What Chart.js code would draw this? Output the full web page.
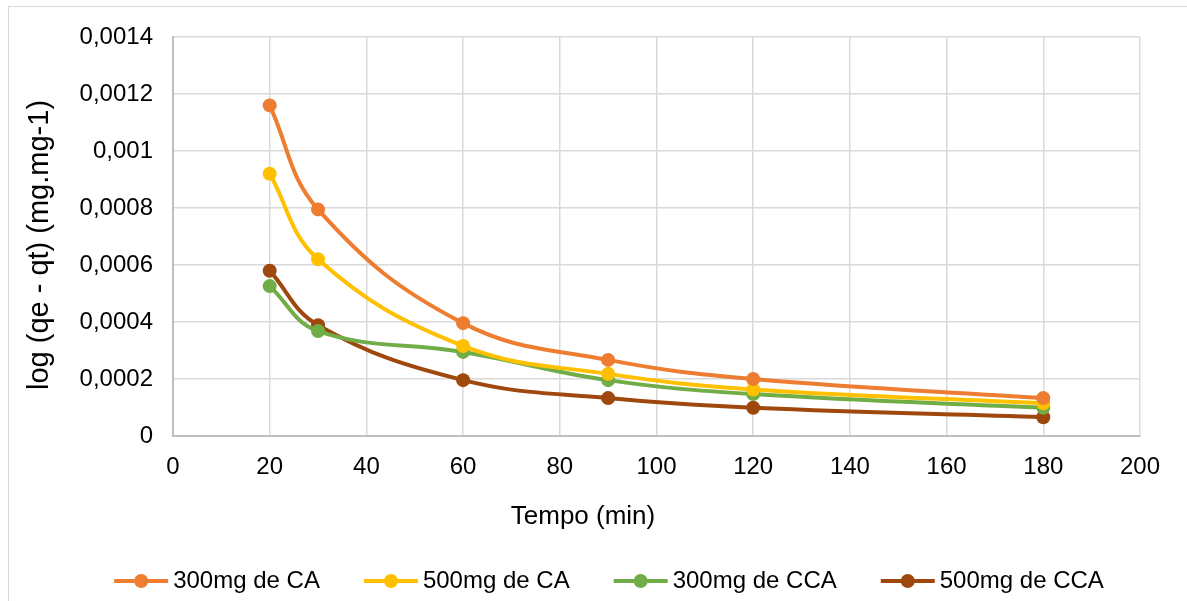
<!DOCTYPE html>
<html>
<head>
<meta charset="utf-8">
<script src="https://cdn.jsdelivr.net/npm/chart.js@4.4.1/dist/chart.umd.min.js"></script>
<style>
    html, body { margin: 0; padding: 0; background: #fff; overflow: hidden; }
    #frame { position: absolute; left: 8px; top: 6px; width: 1200px; height: 640px; border: 1px solid #d9d9d9; }
    #wrap { position: absolute; left: 0; top: 0; width: 1187px; height: 601px; }
</style>
</head>
<body>
<div id="frame"></div>
<div id="wrap"><canvas id="chart"></canvas></div>
<script>
const tempo = [20, 30, 60, 90, 120, 180];
const ca300 = [0.00116, 0.000795, 0.000396, 0.000267, 0.0002, 0.000133];
const ca500 = [0.00092, 0.00062, 0.000316, 0.000218, 0.000163, 0.000115];
const cca300 = [0.000526, 0.000368, 0.000295, 0.000196, 0.000147, 0.000099];
const cca500 = [0.00058, 0.000389, 0.000196, 0.000133, 0.000099, 0.000066];
const seriesNames = ["300mg de CA", "500mg de CA", "300mg de CCA", "500mg de CCA"];
const seriesColors = ["#ED7D31", "#FFC000", "#70AD47", "#9E480E"];
const xTicks = [0, 20, 40, 60, 80, 100, 120, 140, 160, 180, 200];
const yTickLabels = ["0", "0,0002", "0,0004", "0,0006", "0,0008", "0,001", "0,0012", "0,0014"];

const FONT = "'Liberation Sans', Arial, sans-serif";

function toPoints(values) {
    return tempo.map((t, i) => ({ x: t, y: values[i] }));
}

const datasets = [ca300, ca500, cca300, cca500].map((vals, i) => ({
    label: seriesNames[i],
    data: toPoints(vals),
    borderColor: seriesColors[i],
    backgroundColor: seriesColors[i],
    borderWidth: 4,
    pointRadius: 7,
    pointBorderWidth: 0,
    pointHoverRadius: 7,
    tension: 0.4,
    fill: false
}));

// axis titles + legend drawn after the chart
const extras = {
    id: "extras",
    afterDraw(chart) {
        const ctx = chart.ctx;
        ctx.save();
        ctx.fillStyle = "#000";
        ctx.textAlign = "center";
        ctx.textBaseline = "middle";
        ctx.font = "26px " + FONT;
        ctx.fillText("Tempo (min)", 583, 517);

        ctx.save();
        ctx.font = "29px " + FONT;
        ctx.translate(40, 245);
        ctx.rotate(-Math.PI / 2);
        ctx.fillText("log (qe - qt) (mg.mg-1)", 0, 0);
        ctx.restore();

        // legend
        ctx.font = "24px " + FONT;
        ctx.textAlign = "left";
        const markW = 54, gapText = 5, gapItem = 44;
        const widths = chart.data.datasets.map(d => ctx.measureText(d.label).width);
        let total = 0;
        widths.forEach((w, i) => { total += markW + gapText + w + (i < widths.length - 1 ? gapItem : 0); });
        let x = 609 - total / 2;
        const y = 581;
        chart.data.datasets.forEach((d, i) => {
            ctx.strokeStyle = d.borderColor;
            ctx.lineWidth = 4;
            ctx.beginPath();
            ctx.moveTo(x, y);
            ctx.lineTo(x + markW, y);
            ctx.stroke();
            ctx.fillStyle = d.borderColor;
            ctx.beginPath();
            ctx.arc(x + markW / 2, y, 7, 0, Math.PI * 2);
            ctx.fill();
            ctx.fillStyle = "#000";
            ctx.fillText(d.label, x + markW + gapText, y);
            x += markW + gapText + widths[i] + gapItem;
        });
        ctx.restore();
    }
};

new Chart(document.getElementById("chart"), {
    type: "line",
    data: { datasets: datasets },
    options: {
        responsive: true,
        maintainAspectRatio: false,
        animation: false,
        events: [],
        layout: { padding: { top: 37, right: 47, left: 0, bottom: 0 } },
        plugins: {
            legend: { display: false },
            tooltip: { enabled: false }
        },
        scales: {
            x: {
                type: "linear",
                min: 0,
                max: 200,
                afterBuildTicks: scale => { scale.ticks = xTicks.map(v => ({ value: v })); },
                afterFit: scale => { scale.height = 165; },
                grid: { color: "#d9d9d9", lineWidth: 1.5, drawTicks: false },
                border: { color: "#bfbfbf", width: 2 },
                ticks: { padding: 17, color: "#000", font: { family: FONT, size: 24 } }
            },
            y: {
                min: 0,
                max: 0.0014,
                afterBuildTicks: scale => { scale.ticks = yTickLabels.map((l, i) => ({ value: i * 0.0002 })); },
                afterFit: scale => { scale.width = 173; },
                grid: { color: "#d9d9d9", lineWidth: 1.5, drawTicks: false },
                border: { color: "#bfbfbf", width: 2 },
                ticks: {
                    padding: 20,
                    color: "#000",
                    font: { family: FONT, size: 24 },
                    callback: (value, index) => yTickLabels[index]
                }
            }
        }
    },
    plugins: [extras]
});
</script>
</body>
</html>
